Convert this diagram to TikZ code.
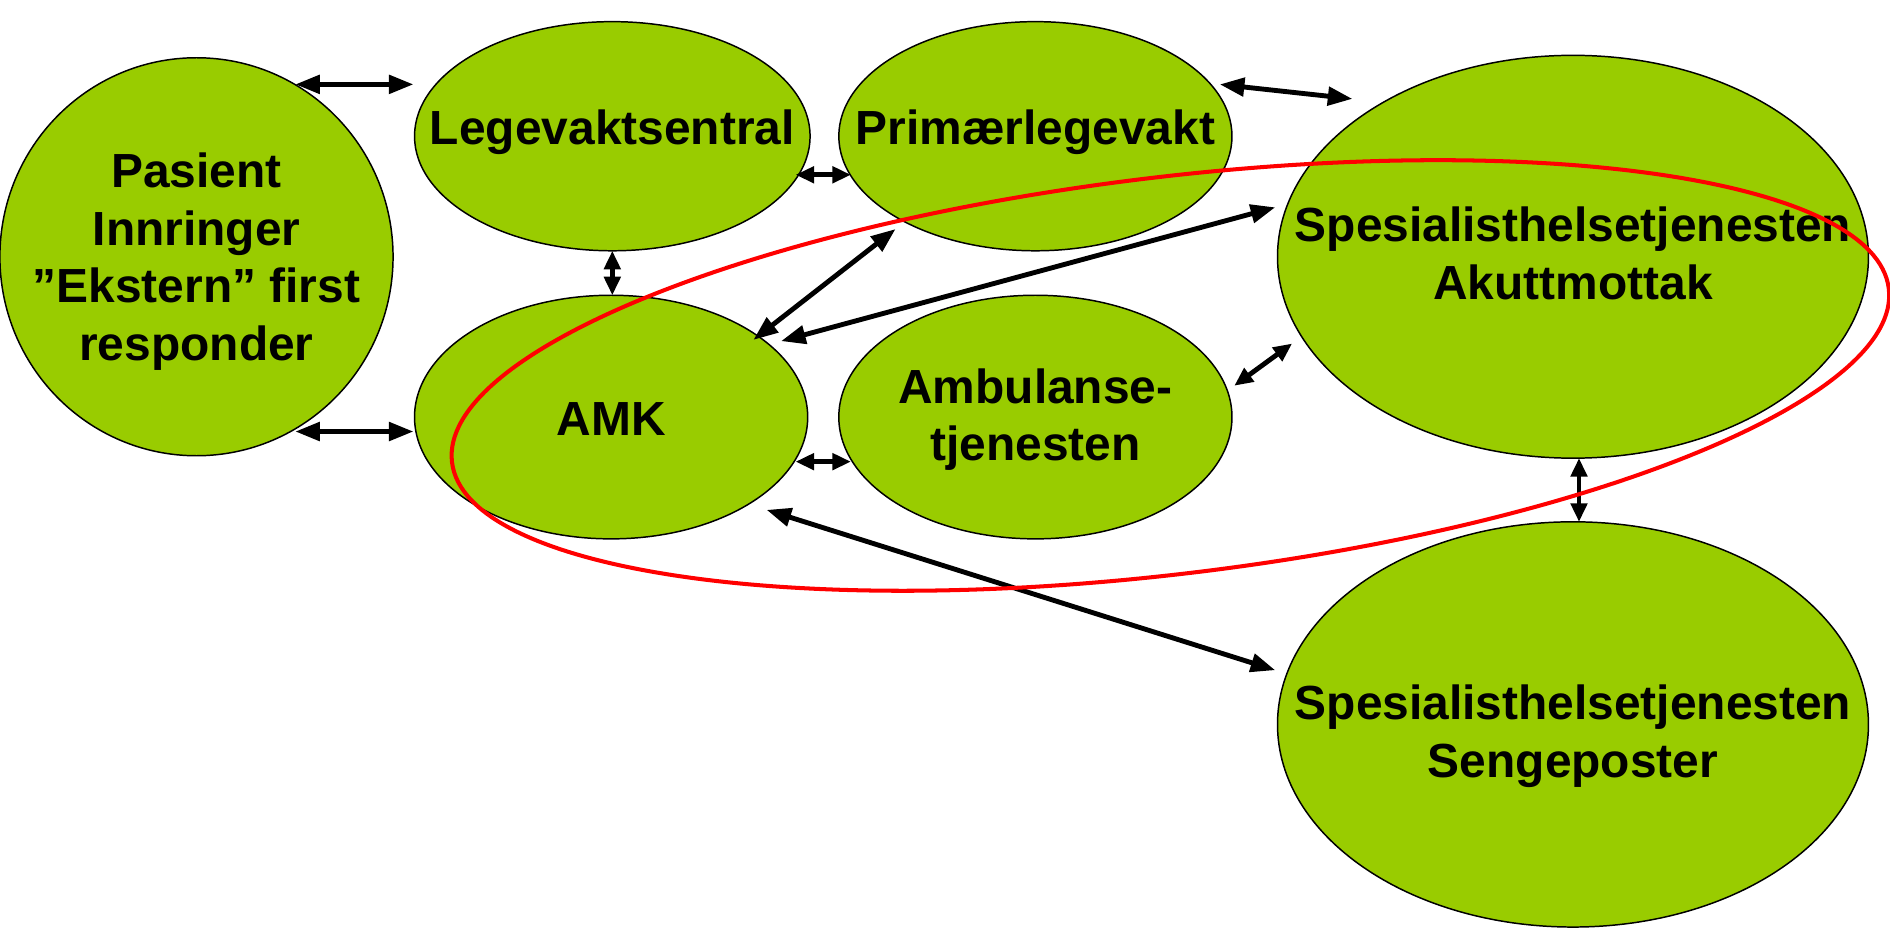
\documentclass[tikz,border=0pt]{standalone}
\usepackage{fontspec}
\setmainfont{Liberation Sans}
\usetikzlibrary{shapes.geometric,arrows.meta,calc}
\definecolor{nodegreen}{HTML}{99CC00}
\begin{document}
\begin{tikzpicture}[x=0.01cm,y=-0.01cm,
  blob/.style={ellipse,draw=black,line width=0.35pt,fill=nodegreen,inner sep=0pt},
  txt/.style={align=center,inner sep=0pt,font=\fontsize{11.3}{13.6}\selectfont\bfseries},
  tip/.tip={Triangle[length=5.8pt,width=4.3pt]},
  smalltip/.tip={Triangle[length=4.4pt,width=3.8pt]},
  arr/.style={line width=1.15pt,tip-tip},
  shortarr/.style={line width=1.15pt,smalltip-smalltip},
  grp/.style={ellipse,draw=red,line width=0.95pt,inner sep=0pt}]
\useasboundingbox (0,0) rectangle (1568,781);
\node[blob,minimum width=3.26cm,minimum height=3.30cm] (pas) at (163,213) {};
\node[blob,minimum width=3.28cm,minimum height=1.90cm] (leg) at (508,113) {};
\node[blob,minimum width=3.26cm,minimum height=1.90cm] (pri) at (859,113) {};
\node[blob,minimum width=4.90cm,minimum height=3.34cm] (aku) at (1305,213) {};
\node[blob,minimum width=3.26cm,minimum height=2.02cm] (amk) at (507,346) {};
\node[blob,minimum width=3.26cm,minimum height=2.02cm] (amb) at (859,346) {};
\node[blob,minimum width=4.90cm,minimum height=3.36cm] (sen) at (1305,601) {};
\node[txt] (pastxt) at ($(pas)+(0,4)$) {Pasient\\Innringer\\”Ekstern” first\\responder};
\node[txt] (legtxt) at ($(leg)+(0,-3)$) {Legevaktsentral};
\node[txt] (pritxt) at ($(pri)+(0,-3)$) {Primærlegevakt};
\node[txt] (akutxt) at ($(aku)+(0,-3)$) {Spesialisthelsetjenesten\\Akuttmottak};
\node[txt] (amktxt) at ($(amk)+(0,2)$) {AMK};
\node[txt] (ambtxt) at ($(amb)+(0,2)$) {Ambulanse-\\tjenesten};
\node[txt] (sentxt) at ($(sen)+(0,10)$) {Spesialisthelsetjenesten\\Sengeposter};
\draw[arr] ($(pas)+(82,-143)$) -- ($(leg)+(-165,-43)$);
\draw[arr] ($(pas)+(82,145)$) -- ($(amk)+(-164,12)$);
\draw[shortarr] ($(leg)+(152,32)$) -- ($(pri)+(-153,32)$);
\draw[shortarr] ($(leg)+(0,95)$) -- ($(amk)+(1,-101)$);
\draw[arr] ($(pri)+(153,-43)$) -- ($(aku)+(-183,-131)$);
\draw[arr] ($(amk)+(118,-64)$) -- ($(pri)+(-116,77)$);
\draw[arr] ($(amk)+(141,-63)$) -- ($(aku)+(-247,-41)$);
\draw[shortarr] ($(amk)+(153,37)$) -- ($(amb)+(-153,37)$);
\draw[shortarr] ($(amb)+(165,-26)$) -- ($(aku)+(-233,72)$);
\draw[shortarr] ($(aku)+(5,167)$) -- ($(sen)+(5,-168)$);
\draw[arr] ($(amk)+(129,77)$) -- ($(sen)+(-247,-45)$);
\node[grp,minimum width=12cm,minimum height=3.29cm,rotate=6.89] (group) at (971,311.5) {};
\end{tikzpicture}
\end{document}
